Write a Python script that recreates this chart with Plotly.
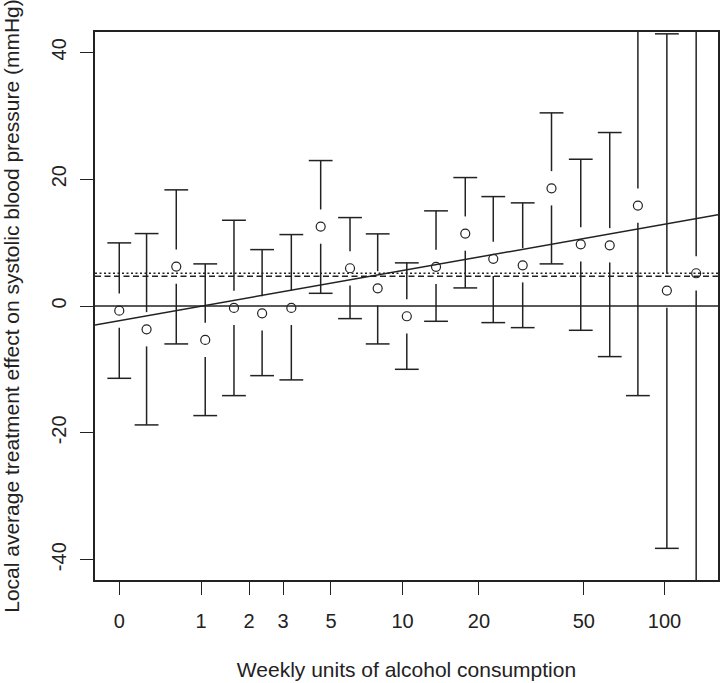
import math
import plotly.graph_objects as go

# weekly units (midpoint of each group) and local treatment effects
units = [0, 0.26, 0.62, 1.07, 1.64, 2.35, 3.29, 4.5, 6.05, 7.91, 10.4,
         13.6, 17.7, 22.7, 29.4, 37.8, 48.7, 62.5, 79.6, 102, 131]
effect = [-0.73, -3.67, 6.21, -5.35, -0.30, -1.15, -0.30, 12.52, 5.95, 2.79, -1.62,
          6.17, 11.42, 7.43, 6.42, 18.56, 9.73, 9.57, 15.83, 2.43, 5.16]
lower = [-11.4, -18.75, -5.98, -17.28, -14.13, -10.98, -11.65, 2.0, -1.99, -5.98, -9.98,
         -2.41, 2.85, -2.62, -3.41, 6.64, -3.83, -7.98, -14.13, -38.21, -60]
upper = [9.95, 11.42, 18.31, 6.64, 13.52, 8.89, 11.26, 22.93, 13.94, 11.37, 6.8,
         15.0, 20.25, 17.25, 16.26, 30.45, 23.14, 27.35, 45.8, 42.91, 70]

xticks = [0, 1, 2, 3, 5, 10, 20, 50, 100]
yticks = [-40, -20, 0, 20, 40]

# reference lines
zero_line = 0
overall_dotted = 5.16
overall_dashed = 4.68
# linear fit on log(units + 1)
fit_intercept = -2.31
fit_slope = 3.295

ink = "#222222"
font = "Liberation Sans, Arial, sans-serif"
gap = 2.7  # gap around each point, in mmHg

xlog_range = [-0.0892, 2.2008]   # log10(units + 1)
yrange = [-43.2, 43.2]

fig = go.Figure()

# error bars with a gap around the point
bx, by = [], []
for u, e, lo, hi in zip(units, effect, lower, upper):
    xv = u + 1
    bx += [xv, xv, None, xv, xv, None]
    by += [hi, e + gap, None, e - gap, lo, None]
fig.add_trace(go.Scatter(x=bx, y=by, mode="lines",
                         line=dict(color=ink, width=1.5), hoverinfo="skip"))

# caps
fig.add_trace(go.Scatter(
    x=[u + 1 for u in units] * 2, y=lower + upper, mode="markers",
    marker=dict(symbol="line-ew-open", size=17, color=ink, line=dict(color=ink, width=1.5)),
    hoverinfo="skip"))

# points
fig.add_trace(go.Scatter(
    x=[u + 1 for u in units], y=effect, mode="markers",
    marker=dict(symbol="circle-open", size=9, color=ink, line=dict(color=ink, width=1.2))))

# horizontal lines
fig.add_hline(y=zero_line, line=dict(color=ink, width=1.5))
fig.add_hline(y=overall_dotted, line=dict(color=ink, width=1.5, dash="2px,2.5px"))
fig.add_hline(y=overall_dashed, line=dict(color=ink, width=1.5, dash="6px,3.5px"))

# fitted line across the plot
lx = [10 ** xlog_range[0], 10 ** xlog_range[1]]
ly = [fit_intercept + fit_slope * math.log(v) for v in lx]
fig.add_trace(go.Scatter(x=lx, y=ly, mode="lines", line=dict(color=ink, width=1.5),
                         hoverinfo="skip"))

fig.update_layout(
    width=720, height=683,
    margin=dict(l=95, r=2, t=32, b=103),
    paper_bgcolor="white", plot_bgcolor="white",
    showlegend=False,
    font=dict(family=font, size=20, color=ink),
    xaxis=dict(
        type="log", range=xlog_range, automargin=False,
        tickvals=[t + 1 for t in xticks], ticktext=[str(t) for t in xticks],
        ticks="outside", ticklen=13, tickwidth=1.2, tickcolor=ink,
        showgrid=False, zeroline=False,
        showline=True, mirror=True, linecolor=ink, linewidth=1.5,
        ticklabelstandoff=9,
        title=dict(text="Weekly units of alcohol consumption", standoff=32,
                   font=dict(size=21)),
    ),
    yaxis=dict(
        range=yrange, tickvals=yticks, ticktext=[str(t) for t in yticks],
        tickangle=-90, automargin=False,
        ticks="outside", ticklen=13, tickwidth=1.2, tickcolor=ink,
        showgrid=False, zeroline=False,
        showline=True, mirror=True, linecolor=ink, linewidth=1.5,
        ticklabelstandoff=6,
        title=dict(text="Local average treatment effect on systolic blood pressure (mmHg)",
                   standoff=26, font=dict(size=21)),
    ),
)

# drop the page's default body margin so the figure sits at the window corner
fig.write_html("out.html", config={"displayModeBar": False},
               post_script="document.body.style.margin='0';")
